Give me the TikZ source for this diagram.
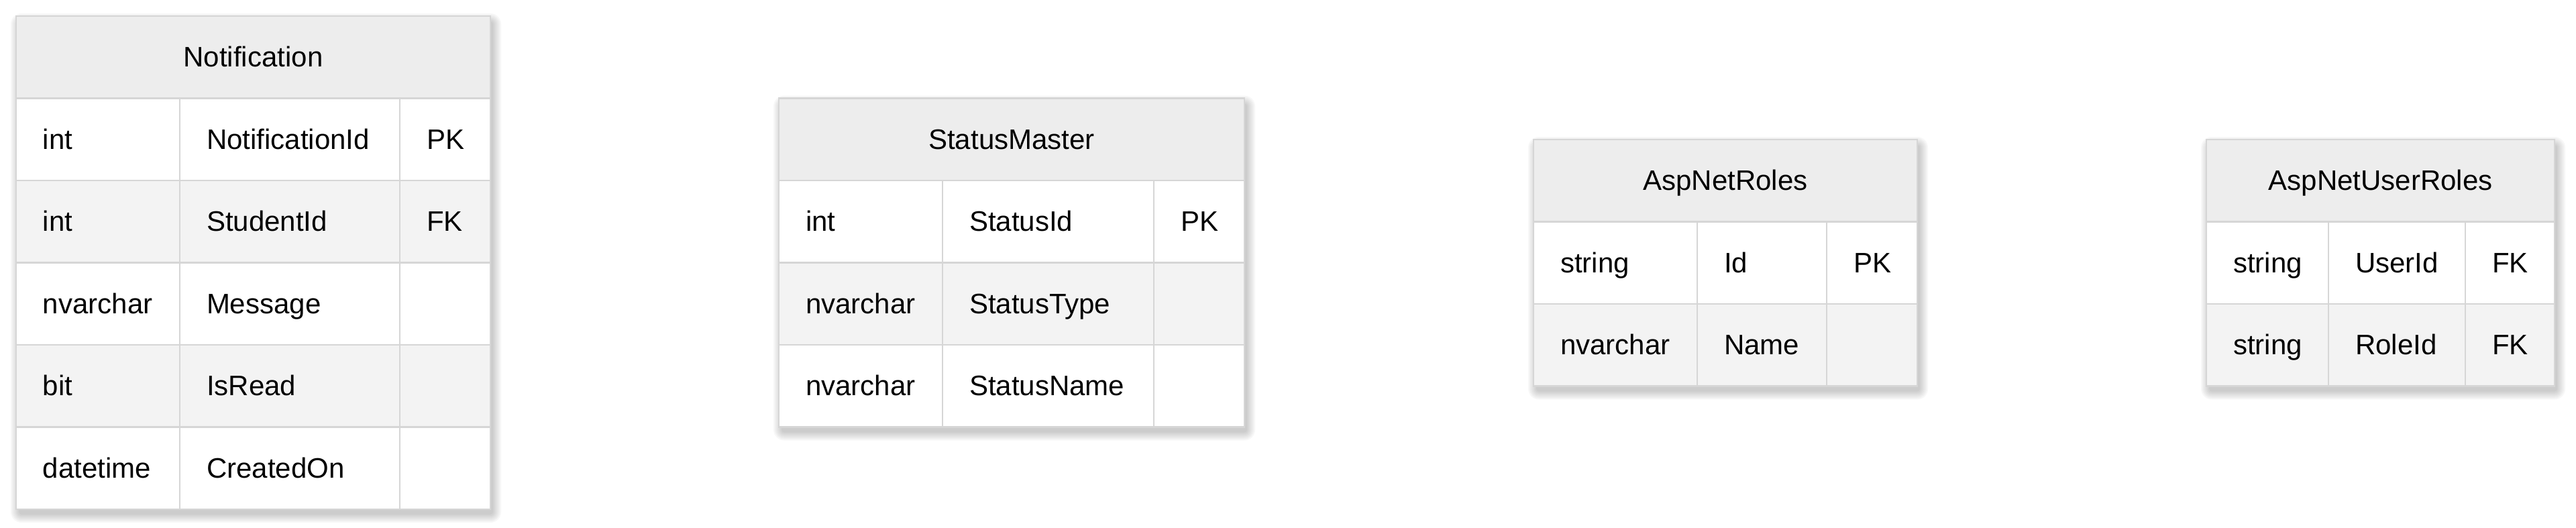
\documentclass[tikz,border=0pt]{standalone}
\usepackage{fontspec}
\setmainfont{Liberation Sans}
\usetikzlibrary{positioning,backgrounds}

\definecolor{linegray}{HTML}{D6D6D6}
\definecolor{headgray}{HTML}{EDEDED}
\definecolor{rowgray}{HTML}{F3F3F3}

\tikzset{
  base/.style={draw=linegray, line width=0.7pt, outer sep=0pt,
    minimum height=30.625pt, inner ysep=0pt,
    text height=7.6pt, text depth=0.4pt, font=\fontsize{10.5}{12}\selectfont},
  head/.style={base, fill=headgray, minimum width=#1},
  cell/.style={base, fill=white, inner xsep=10pt, text width=#1, align=left},
  alt/.style={cell=#1, fill=rowgray}
}

\newcommand{\tabshadow}[2]{%
  \begin{pgfonlayer}{background}
  \foreach \k in {0,0.5,...,3}
    \fill[black, opacity=0.03, rounded corners=1pt+\k pt]
      ([xshift=1pt-\k pt, yshift=-2pt+\k pt]#1.north west) rectangle
      ([xshift=1pt+\k pt, yshift=-2pt-\k pt]#2.south east);
  \end{pgfonlayer}}

\begin{document}
\begin{tikzpicture}
\useasboundingbox (0,0) rectangle (960pt,-196.5pt);

\node[head=176.75pt, anchor=north west] (N) at (6pt,-6pt) {Notification};
\node[cell=41pt] (N1a) [below right=0pt of N.south west] {int};
\node[cell=62pt] (N1b) [right=0pt of N1a] {NotificationId};
\node[cell=13.75pt] (N1c) [right=0pt of N1b] {PK};
\node[alt=41pt] (N2a) [below=0pt of N1a] {int};
\node[alt=62pt] (N2b) [right=0pt of N2a] {StudentId};
\node[alt=13.75pt] (N2c) [right=0pt of N2b] {FK};
\node[cell=41pt] (N3a) [below=0pt of N2a] {nvarchar};
\node[cell=62pt] (N3b) [right=0pt of N3a] {Message};
\node[cell=13.75pt] (N3c) [right=0pt of N3b] {};
\node[alt=41pt] (N4a) [below=0pt of N3a] {bit};
\node[alt=62pt] (N4b) [right=0pt of N4a] {IsRead};
\node[alt=13.75pt] (N4c) [right=0pt of N4b] {};
\node[cell=41pt] (N5a) [below=0pt of N4a] {datetime};
\node[cell=62pt] (N5b) [right=0pt of N5a] {CreatedOn};
\node[cell=13.75pt] (N5c) [right=0pt of N5b] {};

\node[head=173.5pt, anchor=north west] (S) at (290.25pt,-36.625pt) {StatusMaster};
\node[cell=41pt] (S1a) [below right=0pt of S.south west] {int};
\node[cell=58.75pt] (S1b) [right=0pt of S1a] {StatusId};
\node[cell=13.75pt] (S1c) [right=0pt of S1b] {PK};
\node[alt=41pt] (S2a) [below=0pt of S1a] {nvarchar};
\node[alt=58.75pt] (S2b) [right=0pt of S2a] {StatusType};
\node[alt=13.75pt] (S2c) [right=0pt of S2b] {};
\node[cell=41pt] (S3a) [below=0pt of S2a] {nvarchar};
\node[cell=58.75pt] (S3b) [right=0pt of S3a] {StatusName};
\node[cell=13.75pt] (S3c) [right=0pt of S3b] {};

\node[head=143pt, anchor=north west] (R) at (571.5pt,-52pt) {AspNetRoles};
\node[cell=41pt] (R1a) [below right=0pt of R.south west] {string};
\node[cell=28.25pt] (R1b) [right=0pt of R1a] {Id};
\node[cell=13.75pt] (R1c) [right=0pt of R1b] {PK};
\node[alt=41pt] (R2a) [below=0pt of R1a] {nvarchar};
\node[alt=28.25pt] (R2b) [right=0pt of R2a] {Name};
\node[alt=13.75pt] (R2c) [right=0pt of R2b] {};

\node[head=129.75pt, anchor=north west] (U) at (822.25pt,-52pt) {AspNetUserRoles};
\node[cell=25.5pt] (U1a) [below right=0pt of U.south west] {string};
\node[cell=31pt] (U1b) [right=0pt of U1a] {UserId};
\node[cell=13.25pt] (U1c) [right=0pt of U1b] {FK};
\node[alt=25.5pt] (U2a) [below=0pt of U1a] {string};
\node[alt=31pt] (U2b) [right=0pt of U2a] {RoleId};
\node[alt=13.25pt] (U2c) [right=0pt of U2b] {FK};

\tabshadow{N}{N5c}
\tabshadow{S}{S3c}
\tabshadow{R}{R2c}
\tabshadow{U}{U2c}

\end{tikzpicture}
\end{document}
